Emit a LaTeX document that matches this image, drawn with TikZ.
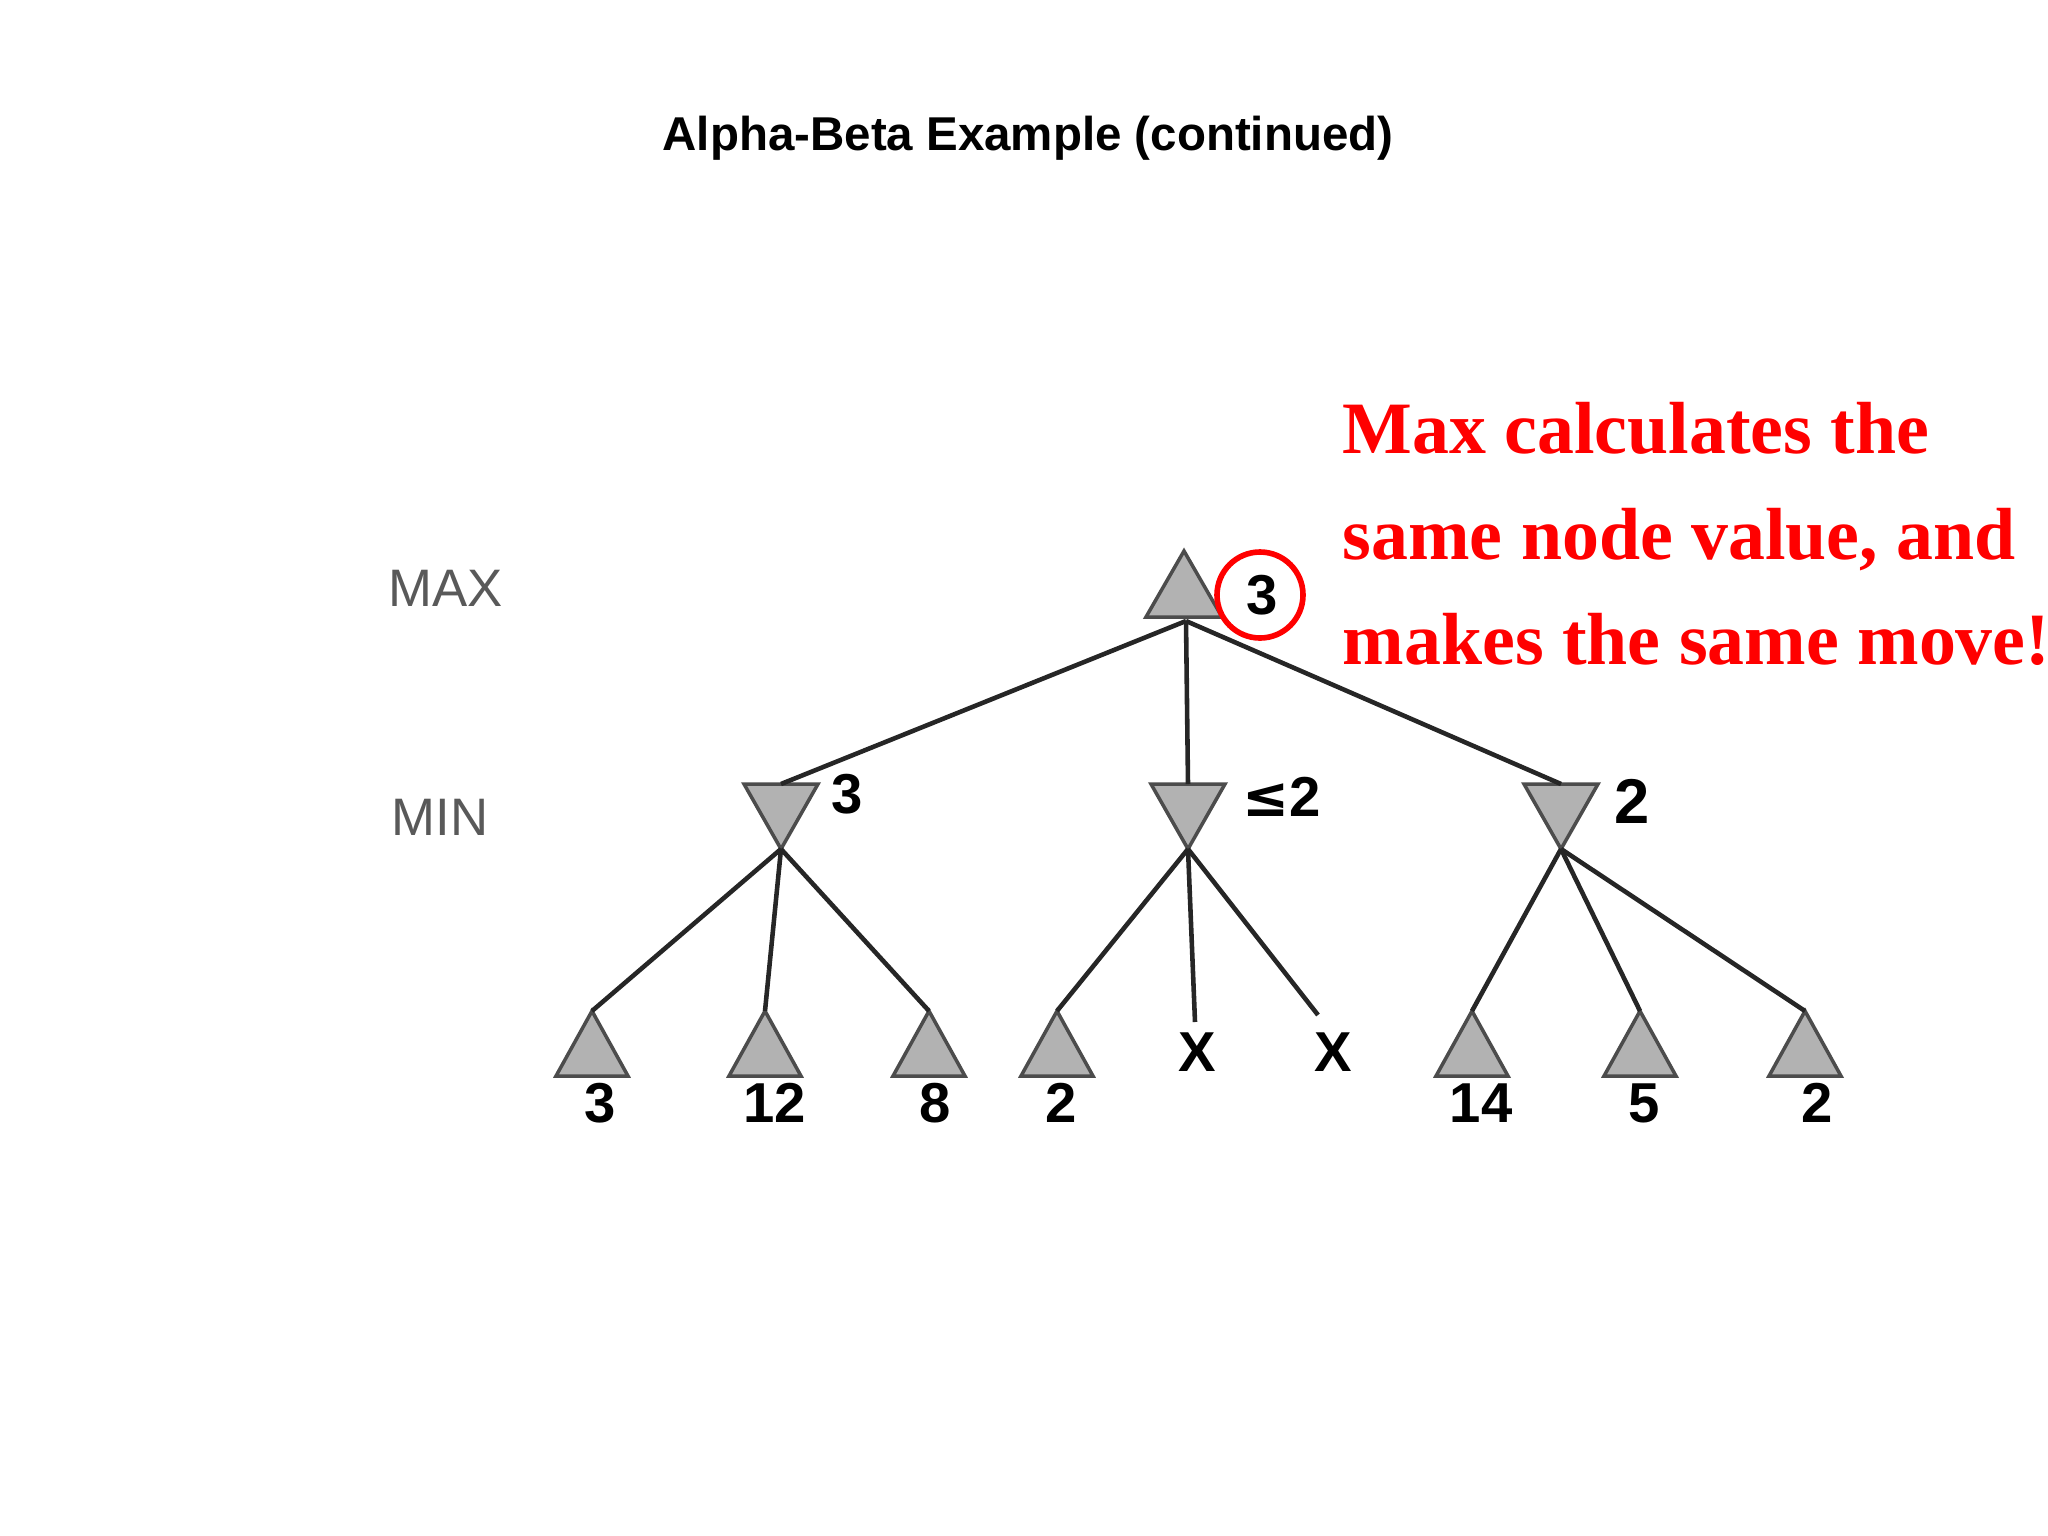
\documentclass[tikz,border=0pt]{standalone}
\usepackage{fontspec}
\setmainfont{Liberation Sans}
\newfontfamily\serifb{Liberation Serif}
\newfontfamily\djv{DejaVu Sans}
\begin{document}
\begin{tikzpicture}[x=0.01cm,y=-0.01cm,
  tri/.style={fill=black!30,draw=black!70,line width=1pt},
  edge/.style={line width=1.3pt,black!85},
  lbl/.style={font=\fontsize{16}{18}\selectfont\bfseries,inner sep=0pt},
  side/.style={font=\fontsize{15}{18}\selectfont,text=black!65,inner sep=0pt}]
\useasboundingbox (0,0) rectangle (2048,1536);
\node[font=\fontsize{13.5}{16}\selectfont\bfseries] (title) at (1028,138) {Alpha-Beta Example (continued)};
\node[side] (maxl) at (446,588) {MAX};
\node[side] (minl) at (440,817) {MIN};
% root
\draw[tri] (1184,551) -- (1222,617) -- (1146,617) -- cycle;
\coordinate (r) at (1186,621);
\node[lbl] (rv) at (1262,595) {3};
\draw[red,line width=1.6pt] (1260,595) circle (43);
% min nodes
\foreach \n/\x in {m1/781,m2/1188,m3/1561}{
  \draw[tri] (\x-37,784) -- (\x+37,784) -- (\x,849) -- cycle;
  \coordinate (\n t) at (\x,784);
  \coordinate (\n) at (\x,849);
}
\draw[edge] (r) -- (m1t); \draw[edge] (r) -- (m2t); \draw[edge] (r) -- (m3t);
\node[lbl] (v1) at (847,794) {3};
\node[lbl] (v2) at (1282,797) {{\djv ≤}2};
\node[lbl,font=\fontsize{18}{20}\selectfont\bfseries] (v3) at (1632,801) {2};
% leaves
\foreach \n/\x/\p/\v/\vx in {l1/592/m1/3/600,l2/765/m1/12/775,l3/929/m1/8/935,l4/1057/m2/2/1061,l5/1472/m3/14/1481,l6/1640/m3/5/1644,l7/1805/m3/2/1817}{
  \draw[tri] (\x,1011) -- (\x+36,1076) -- (\x-36,1076) -- cycle;
  \coordinate (\n) at (\x,1011);
  \draw[edge] (\p) -- (\n);
  \node[lbl] (\n v) at (\vx,1103) {\v};
}
\coordinate (x1) at (1195,1022);
\coordinate (x2) at (1318,1015);
\draw[edge] (m2) -- (x1); \draw[edge] (m2) -- (x2);
\node[lbl] (xa) at (1197,1052) {X};
\node[lbl] (xb) at (1333,1052) {X};
% red text
\node[anchor=north west,align=left,text=red,inner sep=0pt,
  font=\serifb\fontsize{21}{30}\selectfont\bfseries] (note) at (1342,402)
  {Max calculates the\\same node value, and\\makes the same move!};
\end{tikzpicture}
\end{document}
